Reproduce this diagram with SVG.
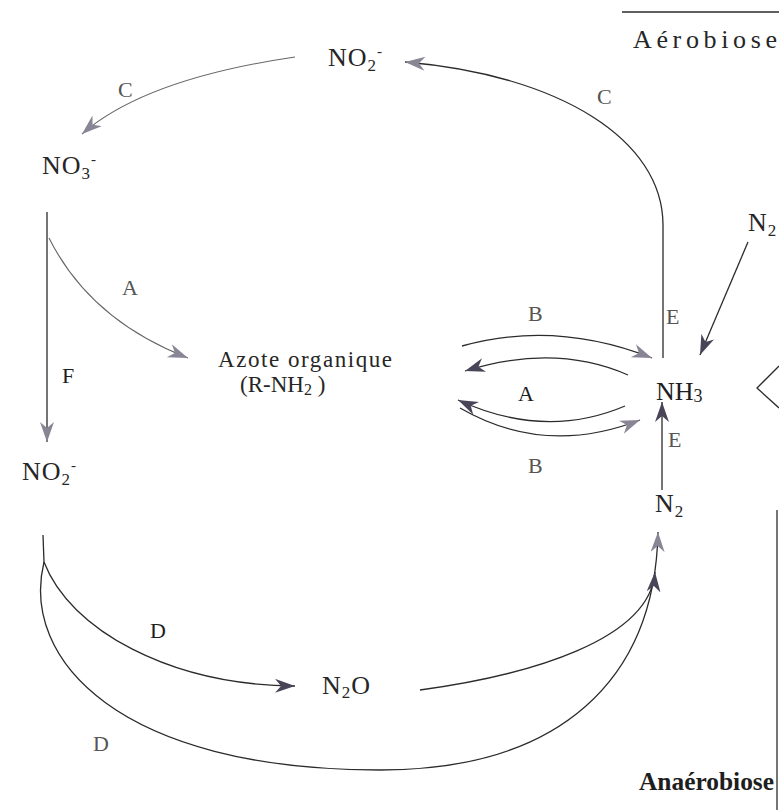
<svg xmlns="http://www.w3.org/2000/svg" width="779" height="810" viewBox="0 0 779 810">
<style>
  .t { font-family: "Liberation Serif", "Times New Roman", serif; fill: #262626; }
  .n { font-size: 26px; letter-spacing: 1px; }
  .lbl { font-size: 22px; fill: #555; }
  .dk { fill: #1e1e1e; }
  .ln { fill: none; stroke: #2b2b2b; stroke-width: 1.3; }
  .lt { fill: none; stroke: #666; stroke-width: 1.1; }
</style>
<defs>
  <marker id="ah" markerUnits="userSpaceOnUse" markerWidth="22" markerHeight="16" refX="20" refY="7" orient="auto">
    <path d="M0,0 L20,7 L0,14 L6,7 Z" fill="#4a4458"/>
  </marker>
  <marker id="ahl" markerUnits="userSpaceOnUse" markerWidth="22" markerHeight="16" refX="20" refY="7" orient="auto">
    <path d="M0,0 L20,7 L0,14 L6,7 Z" fill="#8a8595"/>
  </marker>
</defs>
<rect width="779" height="810" fill="#fff"/>

<g id="zones">
  <line x1="622" y1="12" x2="779" y2="12" class="ln"/>
  <text class="t" font-size="26" x="633" y="48" textLength="144" lengthAdjust="spacing">Aérobiose</text>
  <line x1="777" y1="510" x2="777" y2="810" class="ln" stroke-width="2"/>
  <polyline points="779,366 757,388 779,408" class="ln"/>
  <text class="t dk" x="639" y="790" font-size="26" font-weight="bold" textLength="135" lengthAdjust="spacingAndGlyphs">Anaérobiose</text>
</g>

<g id="connectors">
  <path id="c-left" d="M295 57 Q145 79 82 134" class="lt" marker-end="url(#ahl)"/>
  <path id="c-right" d="M663 358 L663 225 C663 140 560 75 405 62" class="ln" marker-end="url(#ahl)"/>
  <path id="f" d="M47 212 L47 442" class="ln" marker-end="url(#ahl)"/>
  <path id="a-left" d="M49 238 Q90 320 188 358" class="lt" marker-end="url(#ahl)"/>
  <path id="b-up" d="M462 346 Q555 320 652 358" class="ln" marker-end="url(#ahl)"/>
  <path id="a-up" d="M628 375 Q555 343 465 371" class="ln" marker-end="url(#ah)"/>
  <path id="a-low" d="M625 406 Q545 440 458 400" class="ln" marker-end="url(#ah)"/>
  <path id="b-low" d="M460 408 Q545 457 640 420" class="ln" marker-end="url(#ahl)"/>
  <path id="e-top" d="M748 242 L700 355" class="ln" marker-end="url(#ah)"/>
  <path id="e-low" d="M662 490 L662 402" class="ln" marker-end="url(#ah)"/>
  <path id="d-stem" d="M43 535 L44 562" class="ln"/>
  <path id="d-inner" d="M44 562 C70 630 170 685 295 686" class="ln" marker-end="url(#ah)"/>
  <path id="d-outer" d="M44 562 C20 660 120 770 380 770 C560 770 655 680 658 532" class="ln" marker-end="url(#ahl)"/>
  <path id="n2o-n2" d="M420 690 C530 675 650 640 655 572" class="ln" marker-end="url(#ah)"/>
</g>

<g id="labels">
  <text class="t lbl" x="118" y="97">C</text>
  <text class="t lbl" x="597" y="104">C</text>
  <text class="t lbl" x="122" y="295">A</text>
  <text class="t lbl dk" x="62" y="383">F</text>
  <text class="t lbl" x="528" y="321">B</text>
  <text class="t lbl" x="666" y="324">E</text>
  <text class="t lbl dk" x="518" y="401">A</text>
  <text class="t lbl" x="528" y="473">B</text>
  <text class="t lbl" x="668" y="447">E</text>
  <text class="t lbl dk" x="150" y="638">D</text>
  <text class="t lbl" x="93" y="751">D</text>
</g>

<g id="node-no2-top"><text class="t n" x="328" y="66">NO<tspan font-size="17" dy="5">2</tspan><tspan font-size="15" dy="-15">-</tspan></text></g>
<g id="node-no3"><text class="t n" x="42" y="174">NO<tspan font-size="17" dy="5">3</tspan><tspan font-size="15" dy="-15">-</tspan></text></g>
<g id="node-n2-top"><text class="t n" x="748" y="231">N<tspan font-size="17" dy="5">2</tspan></text></g>
<g id="node-azote">
  <text class="t" font-size="23" x="218" y="367" textLength="174" lengthAdjust="spacing">Azote organique</text>
  <text class="t" font-size="23" x="240" y="392">(R-NH<tspan font-size="16" dy="3">2</tspan><tspan dy="-3"> )</tspan></text>
</g>
<g id="node-nh3"><text class="t dk" font-size="26" x="656" y="400">NH<tspan font-size="18" dy="2">3</tspan></text></g>
<g id="node-no2-left"><text class="t n" x="22" y="480">NO<tspan font-size="17" dy="5">2</tspan><tspan font-size="15" dy="-15">-</tspan></text></g>
<g id="node-n2-low"><text class="t n" x="655" y="512">N<tspan font-size="17" dy="5">2</tspan></text></g>
<g id="node-n2o"><text class="t n" x="322" y="694">N<tspan font-size="17" dy="4">2</tspan><tspan dy="-4">O</tspan></text></g>
</svg>
